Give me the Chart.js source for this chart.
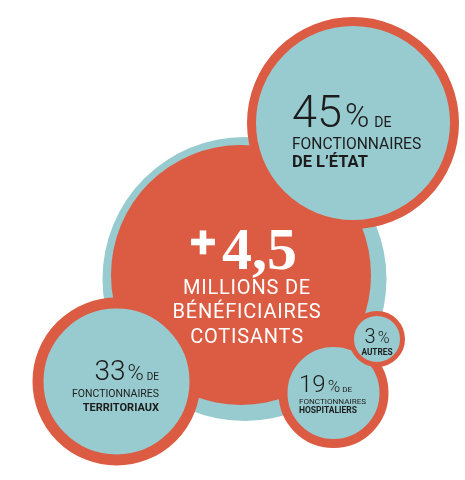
<!DOCTYPE html>
<html>
<head>
<meta charset="utf-8">
<script src="https://cdn.jsdelivr.net/npm/chart.js@4/dist/chart.umd.min.js"></script>
<style>
  html, body { margin: 0; padding: 0; background: #fff; }
  canvas { display: block; }
</style>
</head>
<body>
<canvas id="chart" width="465" height="480"></canvas>
<script>
// Values
const shareValues = [45, 33, 19, 3];
const shareLead = ['DE', 'DE', 'DE', ''];
const categoryTop = ['FONCTIONNAIRES', 'FONCTIONNAIRES', 'FONCTIONNAIRES', ''];
const categoryBold = ['DE L’ÉTAT', 'TERRITORIAUX', 'HOSPITALIERS', 'AUTRES'];
const totalValue = '4,5';
const totalLines = ['MILLIONS DE', 'BÉNÉFICIAIRES', 'COTISANTS'];

// Layout (pixel space, y down)
const bubbleX = [353, 116.5, 333.5, 377];
const bubbleY = [123, 381.5, 393, 339];
const bubbleR = [106, 84, 55, 28];
const ringW = [9, 11, 9, 5];
const baseX = [244.5, 241];
const baseY = [279, 275];
const baseR = [142, 130];

const RED = '#dc5b43';
const TEAL = '#98cbcf';
const INK = '#1c1c1c';
const SANS = 'Roboto, "DejaVu Sans", sans-serif';

// per bubble label placement: offset from centre, alignment, font sizes, baseline offsets
const labelLayout = [
    { dx: -61, align: 'left', num: 45, pct: 33, lead: 14, top: 15.6, bold: 16.5, rows: [4, 26, 44], gaps: [3, 5] },
    { dx: 42.5, align: 'right', num: 28, pct: 22, lead: 10, top: 10.5, bold: 11, rows: [-1.5, 15.5, 29.5], gaps: [2, 3] },
    { dx: -34.5, align: 'left', num: 24, pct: 17, lead: 8, top: 8.1, bold: 8.5, rows: [-1, 10.5, 20], gaps: [2, 2] },
    { dx: 0, align: 'center', num: 20, pct: 16, lead: 8, top: 8, bold: 8.3, rows: [4, 16, 16], gaps: [2, 0] }
];

function drawRuns(ctx, runs, x, y, align) {
    let total = 0;
    runs.forEach((r, i) => {
        ctx.font = r.font;
        r.w = ctx.measureText(r.text).width;
        total += r.w + (i < runs.length - 1 ? (r.gap || 0) : 0);
    });
    let cx = align === 'right' ? x - total : align === 'center' ? x - total / 2 : x;
    ctx.textAlign = 'left';
    runs.forEach(r => {
        ctx.font = r.font;
        ctx.fillText(r.text, cx, y);
        cx += r.w + (r.gap || 0);
    });
}

const labelPlugin = {
    id: 'bubbleLabels',
    afterDatasetsDraw(chart) {
        const { ctx, scales: { x, y } } = chart;
        ctx.save();
        ctx.textBaseline = 'alphabetic';

        // share bubbles
        shareValues.forEach((v, i) => {
            const L = labelLayout[i];
            const px = x.getPixelForValue(bubbleX[i]) + L.dx;
            const py = y.getPixelForValue(bubbleY[i]);
            ctx.fillStyle = INK;
            const runs = [
                { text: String(v), font: `300 ${L.num}px ${SANS}`, gap: L.gaps[0] },
                { text: '%', font: `300 ${L.pct}px ${SANS}`, gap: L.gaps[1] }
            ];
            if (shareLead[i]) runs.push({ text: shareLead[i], font: `400 ${L.lead}px ${SANS}` });
            drawRuns(ctx, runs, px, py + L.rows[0], L.align);
            ctx.textAlign = L.align;
            if (categoryTop[i]) {
                ctx.font = `400 ${L.top}px ${SANS}`;
                ctx.fillText(categoryTop[i], px, py + L.rows[1]);
            }
            ctx.font = `700 ${L.bold}px ${SANS}`;
            ctx.fillText(categoryBold[i], px, py + L.rows[2]);
        });

        // central total
        const cx = x.getPixelForValue(baseX[1]);
        const cy = y.getPixelForValue(baseY[1]);
        ctx.fillStyle = '#ffffff';
        ctx.strokeStyle = '#ffffff';
        ctx.textAlign = 'center';
        ctx.font = `700 34px "DejaVu Sans", sans-serif`;
        ctx.lineWidth = 2.5;
        ctx.fillText('+', cx - 38, cy - 22);
        ctx.strokeText('+', cx - 38, cy - 22);
        ctx.textAlign = 'left';
        ctx.font = `700 60px "Liberation Serif", "DejaVu Serif", serif`;
        ctx.fillText(totalValue, cx - 19, cy - 6);
        ctx.textAlign = 'center';
        ctx.font = `400 20px ${SANS}`;
        if ('letterSpacing' in ctx) ctx.letterSpacing = '0.8px';
        totalLines.forEach((t, k) => ctx.fillText(t, cx + 6, cy + 19 + k * 24.3));
        ctx.restore();
    }
};

new Chart(document.getElementById('chart'), {
    type: 'bubble',
    data: {
        datasets: [
            {
                label: 'total',
                data: baseX.map((bx, i) => ({ x: bx, y: baseY[i], r: baseR[i] })),
                backgroundColor: [TEAL, RED],
                borderWidth: 0,
                clip: false,
                order: 2
            },
            {
                label: 'parts',
                data: shareValues.map((v, i) => ({ x: bubbleX[i], y: bubbleY[i], r: bubbleR[i] - ringW[i] / 2, v })),
                backgroundColor: TEAL,
                borderColor: RED,
                borderWidth: ringW,
                clip: false,
                order: 1
            }
        ]
    },
    options: {
        responsive: false,
        animation: false,
        events: [],
        layout: { autoPadding: false, padding: 0 },
        plugins: { legend: { display: false }, tooltip: { enabled: false } },
        scales: {
            x: { type: 'linear', min: 0, max: 465, display: false },
            y: { type: 'linear', min: 0, max: 480, reverse: true, display: false }
        }
    },
    plugins: [labelPlugin]
});
</script>
</body>
</html>
